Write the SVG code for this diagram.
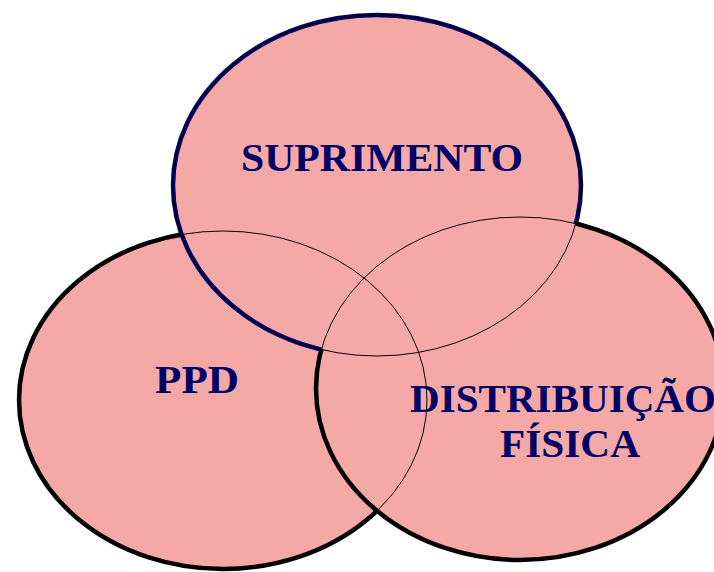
<svg xmlns="http://www.w3.org/2000/svg" width="714" height="572" viewBox="0 0 714 572">
  <style>
    .fill { fill: #F5A9A6; stroke: none; }
    .thick { fill: none; stroke: #000000; stroke-width: 4.5; }
    .thick-navy { fill: none; stroke: #000066; stroke-width: 4.5; }
    .thin { fill: none; stroke: #000000; stroke-width: 1; }
    .label { font-family: "Liberation Serif", "DejaVu Serif", serif; font-weight: bold; font-size: 40px; fill: #000066; }
  </style>
  <defs>
    <clipPath id="outTop">
      <path clip-rule="evenodd" d="M-20,-20 H740 V600 H-20 Z M173,185.5 a204,170.5 0 1,0 408,0 a204,170.5 0 1,0 -408,0 Z"/>
    </clipPath>
    <clipPath id="outRight">
      <path clip-rule="evenodd" d="M-20,-20 H740 V600 H-20 Z M316,388.5 a204,171.5 0 1,0 408,0 a204,171.5 0 1,0 -408,0 Z"/>
    </clipPath>
  </defs>

  <g id="ppd">
    <ellipse class="fill" cx="223" cy="400" rx="204" ry="169"/>
    <g clip-path="url(#outTop)">
      <g clip-path="url(#outRight)">
        <ellipse class="thick" cx="223" cy="400" rx="204" ry="169"/>
      </g>
    </g>
    <text class="label" x="155" y="393" textLength="84" lengthAdjust="spacingAndGlyphs">PPD</text>
  </g>

  <g id="suprimento">
    <ellipse class="fill" cx="377" cy="185.5" rx="204" ry="170.5"/>
    <g clip-path="url(#outRight)">
      <ellipse class="thick-navy" cx="377" cy="185.5" rx="204" ry="170.5"/>
    </g>
    <text class="label" x="241" y="171" textLength="282" lengthAdjust="spacingAndGlyphs">SUPRIMENTO</text>
  </g>

  <g id="distribuicao">
    <ellipse class="fill" cx="520" cy="388.5" rx="204" ry="171.5"/>
    <g clip-path="url(#outTop)">
      <ellipse class="thick" cx="520" cy="388.5" rx="204" ry="171.5"/>
    </g>
    <text class="label" x="410" y="412" textLength="306" lengthAdjust="spacingAndGlyphs">DISTRIBUIÇÃO</text>
    <text class="label" x="500" y="457" textLength="140" lengthAdjust="spacingAndGlyphs">FÍSICA</text>
  </g>

  <g id="connectors">
    <ellipse class="thin" cx="223" cy="400" rx="204" ry="169"/>
    <ellipse class="thin" cx="377" cy="185.5" rx="204" ry="170.5"/>
    <ellipse class="thin" cx="520" cy="388.5" rx="204" ry="171.5"/>
  </g>
</svg>
